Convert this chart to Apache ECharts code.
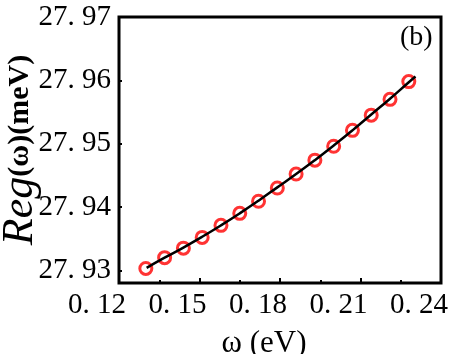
<!DOCTYPE html>
<html>
<head>
<meta charset="utf-8">
<script src="https://cdn.jsdelivr.net/npm/echarts@6/dist/echarts.min.js"></script>
<style>
  html, body { margin: 0; padding: 0; background: #fff; }
  #chart { width: 472px; height: 354px; }
</style>
</head>
<body>
<div id="chart"></div>
<script>
// measured points (red circles)
var omega = [0.130, 0.137, 0.144, 0.151, 0.158, 0.165, 0.172, 0.179, 0.186, 0.193, 0.200, 0.207, 0.214, 0.221, 0.228];
var reg = [27.9303, 27.9320, 27.9335, 27.9352, 27.9371, 27.9390, 27.9409, 27.9430, 27.9452, 27.9474, 27.9496, 27.9521, 27.9545, 27.9570, 27.9598];
// fitted curve (black line)
var fitOmega = [0.1303, 0.137, 0.144, 0.151, 0.158, 0.165, 0.172, 0.179, 0.186, 0.193, 0.200, 0.207, 0.214, 0.221, 0.228, 0.2305];
var fitReg = [27.9304, 27.9320, 27.9336, 27.9353, 27.9371, 27.9390, 27.9410, 27.9431, 27.9452, 27.9474, 27.9497, 27.9521, 27.9546, 27.9571, 27.9597, 27.9606];
var xTicks = [0.12, 0.15, 0.18, 0.21, 0.24];
var yTicks = [27.93, 27.94, 27.95, 27.96, 27.97];

function toPairs(xs, ys) {
    var Ret = [];
    for (var i = 0; i < xs.length; i++) {
        Ret.push([xs[i], ys[i]]);
    }
    return Ret;
}
function fmt(v) {
    // labels in the figure have a gap after the decimal point
    return v.toFixed(2).replace('.', '. ');
}

var serif = '"Liberation Serif", "DejaVu Serif", serif';
var myChart = echarts.init(document.getElementById('chart'));
var option = {
    animation: false,
    grid: {
        left: 119, right: 31, top: 17, bottom: 71,
        outerBoundsMode: 'none',
        containLabel: false,
        show: true,
        borderColor: '#000',
        borderWidth: 3
    },
    xAxis: {
        type: 'value',
        min: 0.12,
        max: 0.24,
        interval: 0.03,
        name: 'ω (eV)',
        nameLocation: 'middle',
        nameGap: 45,
        nameMoveOverlap: false,
        nameTextStyle: { fontFamily: serif, fontSize: 31, color: '#000', padding: [0, 32, 0, 0] },
        axisLine: { show: false },
        axisTick: { show: true, inside: true, length: 5, lineStyle: { color: '#000', width: 2 } },
        minorTick: { show: true, splitNumber: 2, length: 3, lineStyle: { color: '#000', width: 2 } },
        splitLine: { show: false },
        axisLabel: {
            customValues: xTicks,
            // labels sit ~22px left of their ticks in the figure
            formatter: function (v) { return '{v|' + fmt(v) + '}{g|}'; },
            hideOverlap: false,
            alignMinLabel: 'center',
            alignMaxLabel: 'center',
            margin: 8,
            rich: {
                v: { fontFamily: serif, fontSize: 29, color: '#000' },
                g: { width: 44 }
            }
        }
    },
    yAxis: {
        type: 'value',
        min: 27.928,
        max: 27.97,
        name: '{a|Reg}{b|(ω)(meV)}',
        nameLocation: 'middle',
        nameRotate: 90,
        nameGap: 77,
        nameMoveOverlap: false,
        nameTextStyle: {
            color: '#000',
            rich: {
                a: { fontFamily: serif, fontStyle: 'italic', fontSize: 44, color: '#000' },
                b: { fontFamily: serif, fontWeight: 'bold', fontSize: 30, color: '#000' }
            }
        },
        axisLine: { show: false },
        axisTick: {
            show: true, inside: true, length: 3,
            customValues: [27.93, 27.94, 27.95, 27.96],
            lineStyle: { color: '#000', width: 2 }
        },
        splitLine: { show: false },
        axisLabel: {
            customValues: yTicks,
            formatter: fmt,
            fontFamily: serif,
            fontSize: 29,
            color: '#000',
            margin: 8,
            hideOverlap: false,
            padding: [9, 0, 0, 0]
        }
    },
    graphic: [
        {
            type: 'text',
            left: 400,
            top: 24,
            style: { text: '(b)', fontFamily: serif, fontSize: 28, fill: '#000' }
        }
    ],
    series: [
        {
            name: 'data',
            type: 'scatter',
            data: toPairs(omega, reg),
            symbol: 'circle',
            symbolSize: 12,
            itemStyle: { color: 'rgba(0,0,0,0)', borderColor: '#ff0000', borderWidth: 3 },
            z: 2
        },
        {
            name: 'fit',
            type: 'line',
            data: toPairs(fitOmega, fitReg),
            smooth: true,
            showSymbol: false,
            lineStyle: { color: '#000', width: 2.5 },
            z: 3
        }
    ]
};
myChart.setOption(option);
</script>
</body>
</html>
